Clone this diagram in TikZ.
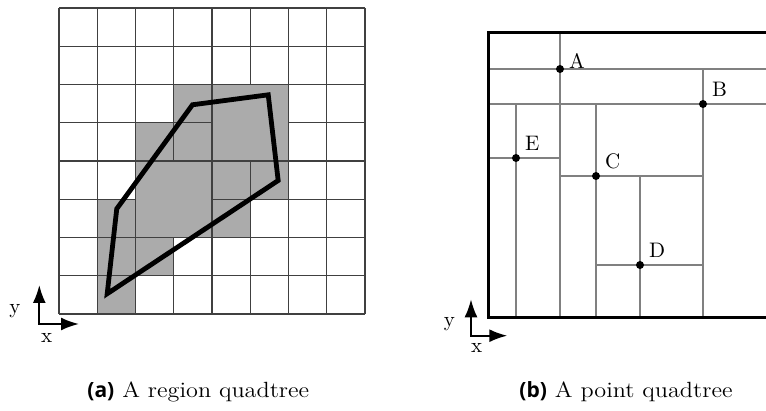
\documentclass[tikz,border=0pt]{standalone}
\usepackage{fontspec}
\usepackage{graphicx}
\usetikzlibrary{arrows.meta,calc}
\newfontfamily\subfont{Open Sans}
\definecolor{cellgray}{gray}{0.67}
\definecolor{gridline}{gray}{0.25}
\definecolor{splitline}{gray}{0.5}
\tikzset{
    cell/.style={fill=cellgray, draw=gridline, line width=0.6pt},
    axis/.style={line width=1pt, {Latex[length=9pt,width=6.5pt]}-{Latex[length=9pt,width=6.5pt]}},
    split/.style={draw=splitline, line width=0.6pt},
    lab/.style={font=\fontsize{10.5}{12}\selectfont},
    caption/.style={anchor=base west, inner sep=0pt, font=\fontsize{11}{13}\selectfont}
}

\begin{document}
\begin{tikzpicture}[x=0.5pt, y=-0.5pt]
    \useasboundingbox (0,0) rectangle (766,411);

    \begin{scope}[shift={(29.5pt,-157pt)}, x=19.125pt, y=19.125pt]
        \foreach \k in {0,...,8} {
            \draw[gridline, line width=0.6pt] (\k,0) -- (\k,8); \draw[gridline, line width=0.6pt] (0,\k) -- (8,\k);
        }
        \foreach \i/\j in {1/0, 1/1, 1/2, 2/1, 2/4, 3/4, 3/5, 4/2, 4/3, 5/3} {
            \draw[cell] (\i,\j) rectangle ++(1,1);
        }
        \draw[cell] (2,2) rectangle (4,4); \draw[cell] (4,4) rectangle (6,6);
        \coordinate (P1) at (1.26,0.53); \coordinate (P2) at (1.51,2.75); \coordinate (P3) at (3.49,5.47);
        \coordinate (P4) at (5.47,5.73); \coordinate (P5) at (5.73,3.49);
        \draw[line width=2.4pt] (P1) -- (P2) -- (P3) -- (P4) -- (P5) -- cycle;
    \end{scope}

    \coordinate (oL) at (39.3,324); \coordinate (yL) at (39.3,285); \coordinate (xL) at (79,324);
    \draw[axis] (yL) -- (oL) -- (xL);
    \node[lab] (ylabL) at (15,311) {y}; \node[lab] (xlabL) at (46.7,338) {x};

    \coordinate (NW) at (488,33); \coordinate (SW) at (488,318); \coordinate (NE) at (766,33); \coordinate (SE) at (766,318);
    \coordinate (A) at (560,69); \coordinate (B) at (703,104); \coordinate (C) at (596,176);
    \coordinate (D) at (640,265); \coordinate (E) at (516,158);

    \draw[split] (A |- NW) -- (A |- SW); \draw[split] (NW |- A) -- (NE |- A);
    \draw[split] (NW |- B) -- (NE |- B); \draw[split] (B |- A) -- (B |- SW);
    \draw[split] (E |- B) -- (E |- SW); \draw[split] (NW |- E) -- (A |- E);
    \draw[split] (C |- B) -- (C |- SW); \draw[split] (A |- C) -- (B |- C);
    \draw[split] (D |- C) -- (D |- SW); \draw[split] (C |- D) -- (B |- D);
    \draw[line width=1.5pt] (NE) -- (NW) -- (SW) -- (SE);

    \foreach \p/\dy in {A/-3.4pt, B/0pt, C/0pt, D/0pt, E/0pt} {
        \fill (\p) circle (2pt) node[lab, above right, xshift=1pt, yshift=\dy] (lab\p) {\p};
    }

    \coordinate (oR) at (471,335.7); \coordinate (yR) at (471,299.3); \coordinate (xR) at (507.3,335.7);
    \draw[axis] (yR) -- (oR) -- (xR);
    \node[lab] (ylabR) at (449.3,324) {y}; \node[lab] (xlabR) at (476.7,348.3) {x};

    \node[caption] (capA) at (87,397) {{\subfont\bfseries\fontsize{10.5}{13}\selectfont(a)}\hspace{4pt}\scalebox{1.1}[1]{A region quadtree}};
    \node[caption] (capB) at (519,397) {{\subfont\bfseries\fontsize{10.5}{13}\selectfont(b)}\hspace{4pt}\scalebox{1.1}[1]{A point quadtree}};
\end{tikzpicture}
\end{document}
